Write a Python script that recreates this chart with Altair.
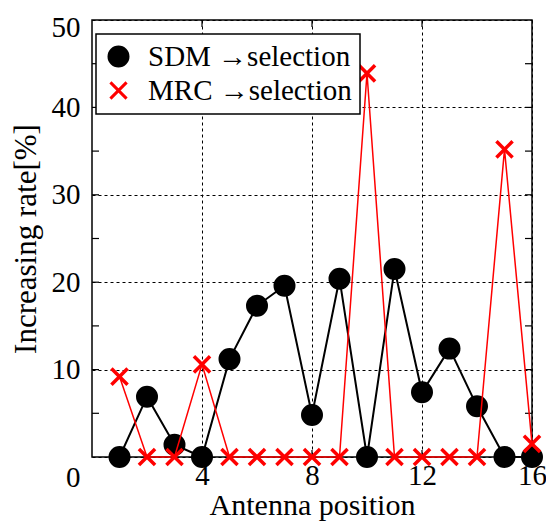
import altair as alt
import pandas as pd

positions = list(range(1, 17))
sdm = [0, 6.9, 1.4, 0, 11.2, 17.3, 19.6, 4.8, 20.4, 0, 21.5, 7.4, 12.4, 5.8, 0, 0]
mrc = [9.2, 0, 0, 10.6, 0, 0, 0, 0, 0, 43.9, 0, 0, 0, 0, 35.2, 1.5]
series_names = ["SDM →selection", "MRC →selection"]
x_ticks = [4, 8, 12, 16]
y_ticks = [0, 10, 20, 30, 40, 50]
y_minor = [5, 10, 15, 20, 25, 30, 35, 40, 45]
x_minor = [4, 8, 12]

W, H = 440, 437
FONT = "Liberation Serif"
XPATH = "M-0.85,-0.85L0.85,0.85M-0.85,0.85L0.85,-0.85"

df = pd.DataFrame({
    "position": positions * 2,
    "value": sdm + mrc,
    "series": [series_names[0]] * 16 + [series_names[1]] * 16,
})

xs = alt.Scale(domain=[0, 16], nice=False, zero=False)
ys = alt.Scale(domain=[0, 50], nice=False)

X = alt.X("position:Q", scale=xs, axis=alt.Axis(
    values=x_ticks, title="Antenna position", grid=True, gridDash=[3, 3],
    gridColor="black", gridWidth=1, gridOpacity=1, ticks=False, domain=False,
    labelFont=FONT, labelFontSize=29, labelColor="black", labelPadding=4,
    titleFont=FONT, titleFontSize=30, titleFontWeight="normal", titleColor="black",
    titlePadding=0, labelFlush=False))
Y = alt.Y("value:Q", scale=ys, axis=alt.Axis(
    values=y_ticks, title="Increasing rate[%]", grid=True, gridDash=[3, 3],
    gridColor="black", gridWidth=1, gridOpacity=1, ticks=False, domain=False,
    labelFont=FONT, labelFontSize=29, labelColor="black", labelPadding=12,
    labelOffset=alt.ExprRef("datum.value == 0 ? 20 : (datum.value == 50 ? 7 : 0)"),
    titleFont=FONT, titleFontSize=31, titleFontWeight="normal", titleColor="black",
    titlePadding=9, labelFlush=False))

Xn = alt.X("position:Q", scale=xs)
Yn = alt.Y("value:Q", scale=ys)

shape_enc = alt.Shape("series:N", scale=alt.Scale(domain=series_names, range=["circle", XPATH]),
                      legend=alt.Legend(title=None))
fill_enc = alt.Fill("series:N", scale=alt.Scale(domain=series_names, range=["black", "transparent"]),
                    legend=alt.Legend(title=None))
stroke_enc = alt.Stroke("series:N", scale=alt.Scale(domain=series_names, range=["black", "red"]),
                        legend=alt.Legend(title=None))

base = alt.Chart(df)

grid_layer = base.mark_point(opacity=0).encode(x=X, y=Y)

line_sdm = base.transform_filter(alt.datum.series == series_names[0]).mark_line(
    color="black", strokeWidth=2).encode(x=Xn, y=Yn)
line_mrc = base.transform_filter(alt.datum.series == series_names[1]).mark_line(
    color="red", strokeWidth=1.5).encode(x=Xn, y=Yn)
pts_sdm = base.transform_filter(alt.datum.series == series_names[0]).mark_point(
    size=361, strokeWidth=3, opacity=1).encode(x=Xn, y=Yn, shape=shape_enc, fill=fill_enc, stroke=stroke_enc)
pts_mrc = base.transform_filter(alt.datum.series == series_names[1]).mark_point(
    size=361, strokeWidth=3.5, opacity=1).encode(x=Xn, y=Yn, shape=shape_enc, fill=fill_enc, stroke=stroke_enc)

ym = pd.DataFrame({"value": y_minor})
xm = pd.DataFrame({"position": x_minor})
tk_l = alt.Chart(ym).mark_rule(color="black", strokeWidth=1.2).encode(
    y=Yn, x=alt.value(0), x2=alt.value(7))
tk_r = alt.Chart(ym).mark_rule(color="black", strokeWidth=1.2).encode(
    y=Yn, x=alt.value(W - 7), x2=alt.value(W))
tk_b = alt.Chart(xm).mark_rule(color="black", strokeWidth=1.2).encode(
    x=Xn, y=alt.value(H - 7), y2=alt.value(H))
tk_t = alt.Chart(xm).mark_rule(color="black", strokeWidth=1.2).encode(
    x=Xn, y=alt.value(0), y2=alt.value(7))

chart = alt.layer(grid_layer, tk_l, tk_r, tk_b, tk_t, line_sdm, pts_sdm, line_mrc, pts_mrc).properties(
    width=W, height=H,
    padding={"left": 84, "top": 12, "right": 14, "bottom": 66},
    autosize=alt.AutoSizeParams(type="none"),
).configure_view(
    stroke="black", strokeWidth=1.5
).configure_legend(
    orient="none", legendX=4, legendY=14,
    strokeColor="black", strokeWidth=1.5, fillColor="white",
    padding=8, labelFont=FONT, labelFontSize=29, labelColor="black",
    labelOffset=15, symbolSize=361, symbolStrokeWidth=3, rowPadding=4,
    symbolOpacity=1, labelLimit=400, cornerRadius=0, offset=0
)

chart.save("out.html", embed_options={"renderer": "svg", "actions": False})
